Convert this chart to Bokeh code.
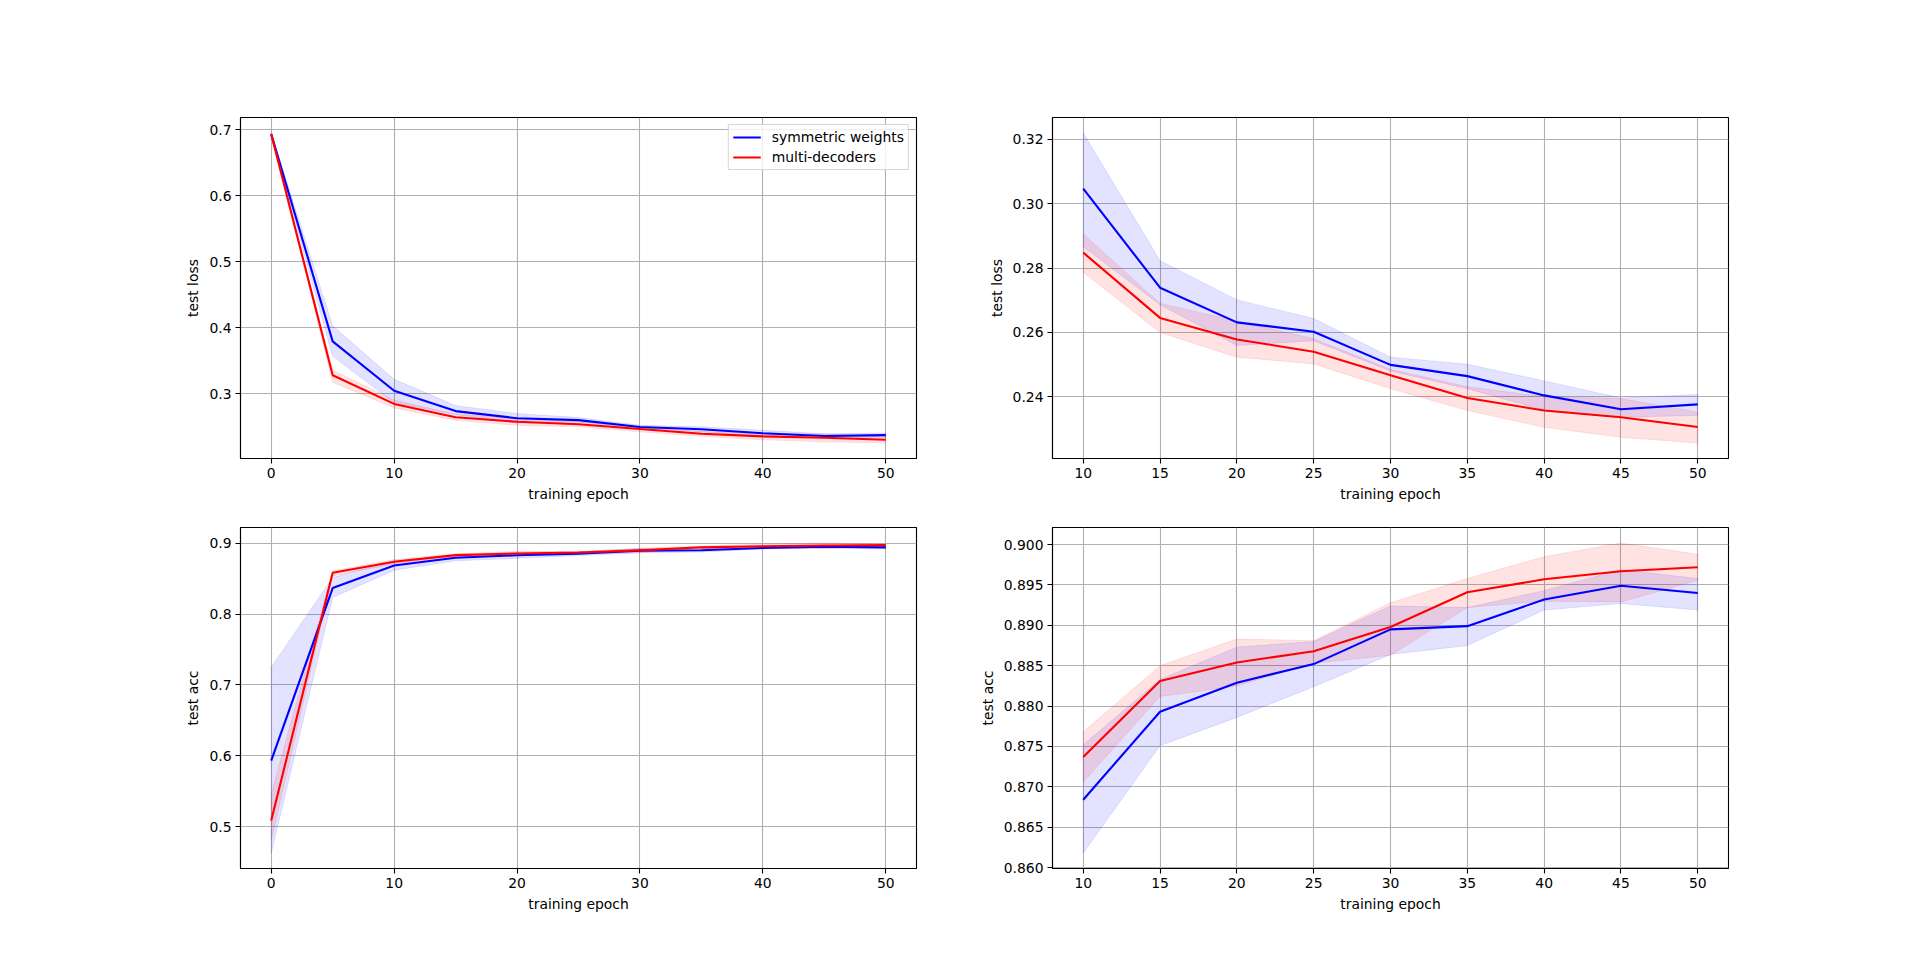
from bokeh.plotting import figure
from bokeh.layouts import column, row
from bokeh.models import Range1d, FixedTicker, PrintfTickFormatter, Legend, LegendItem
from bokeh.embed import file_html
from bokeh.resources import INLINE

# ---------------- data ----------------
epochs = [0, 5, 10, 15, 20, 25, 30, 35, 40, 45, 50]

sym_loss = [0.6935, 0.3795, 0.3047, 0.2739, 0.2631, 0.2602, 0.2499, 0.2464, 0.2404, 0.2361, 0.2376]
sym_loss_hi = [0.6952, 0.4031, 0.3220, 0.2823, 0.2701, 0.2643, 0.2523, 0.2501, 0.2449, 0.2396, 0.2407]
sym_loss_lo = [0.6915, 0.3569, 0.2867, 0.2686, 0.2559, 0.2574, 0.2480, 0.2425, 0.2358, 0.2336, 0.2342]
multi_loss = [0.6935, 0.3282, 0.2848, 0.2645, 0.2578, 0.2540, 0.2467, 0.2396, 0.2357, 0.2336, 0.2306]
multi_loss_hi = [0.6945, 0.3357, 0.2906, 0.2690, 0.2635, 0.2580, 0.2485, 0.2431, 0.2400, 0.2394, 0.2352]
multi_loss_lo = [0.6920, 0.3176, 0.2787, 0.2600, 0.2523, 0.2502, 0.2425, 0.2357, 0.2305, 0.2274, 0.2256]

sym_acc = [0.5934, 0.8366, 0.8684, 0.8793, 0.8829, 0.8852, 0.8895, 0.8899, 0.8932, 0.8949, 0.8940]
sym_acc_hi = [0.7249, 0.8516, 0.8752, 0.8833, 0.8873, 0.8880, 0.8924, 0.8922, 0.8943, 0.8969, 0.8958]
sym_acc_lo = [0.4631, 0.8235, 0.8618, 0.8751, 0.8786, 0.8824, 0.8864, 0.8875, 0.8919, 0.8927, 0.8919]
multi_acc = [0.5089, 0.8582, 0.8737, 0.8831, 0.8854, 0.8868, 0.8898, 0.8941, 0.8957, 0.8967, 0.8972]
multi_acc_hi = [0.5465, 0.8610, 0.8768, 0.8850, 0.8883, 0.8881, 0.8928, 0.8958, 0.8985, 0.9002, 0.8988]
multi_acc_lo = [0.4808, 0.8540, 0.8706, 0.8812, 0.8825, 0.8853, 0.8863, 0.8922, 0.8930, 0.8929, 0.8956]

x_ticks_full = [0, 10, 20, 30, 40, 50]
x_ticks_zoom = [10, 15, 20, 25, 30, 35, 40, 45, 50]
y_ticks_loss_full = [0.3, 0.4, 0.5, 0.6, 0.7]
y_ticks_loss_zoom = [0.24, 0.26, 0.28, 0.30, 0.32]
y_ticks_acc_full = [0.5, 0.6, 0.7, 0.8, 0.9]
y_ticks_acc_zoom = [0.860, 0.865, 0.870, 0.875, 0.880, 0.885, 0.890, 0.895, 0.900]

labels = ["symmetric weights", "multi-decoders"]
x_label = "training epoch"

FONT = "DejaVu Sans"
FS = "13.9px"
BLUE = "#0000ff"
RED = "#ff0000"


def padded(lo, hi):
    span = hi - lo
    return Range1d(lo - 0.05 * span, hi + 0.05 * span)


def make_fig(start, a, a_hi, a_lo, b, b_hi, b_lo, xticks, yticks, yfmt, ylabel,
             borders, legend=False):
    xs = epochs[start:]
    a, a_hi, a_lo = a[start:], a_hi[start:], a_lo[start:]
    b, b_hi, b_lo = b[start:], b_hi[start:], b_lo[start:]
    ymin = min(a_lo + b_lo + a + b)
    ymax = max(a_hi + b_hi + a + b)
    left, right, top, bottom = borders
    p = figure(frame_width=676, frame_height=341,
               min_border_left=left, min_border_right=right,
               min_border_top=top, min_border_bottom=bottom,
               x_range=padded(min(xs), max(xs)), y_range=padded(ymin, ymax),
               output_backend="svg", toolbar_location=None)
    p.background_fill_color = "white"
    p.border_fill_color = "white"
    p.outline_line_color = "black"
    p.outline_line_width = 1.1

    # bands
    for hi, lo, c in ((a_hi, a_lo, BLUE), (b_hi, b_lo, RED)):
        p.patch(xs + xs[::-1], hi + lo[::-1], fill_color=c, fill_alpha=0.11,
                line_color=c, line_alpha=0.1, line_width=1)
    ra = p.line(xs, a, line_color=BLUE, line_width=2.1)
    rb = p.line(xs, b, line_color=RED, line_width=2.1)

    p.xaxis.ticker = FixedTicker(ticks=xticks)
    p.yaxis.ticker = FixedTicker(ticks=yticks)
    p.yaxis.formatter = PrintfTickFormatter(format=yfmt)
    p.xaxis.formatter = PrintfTickFormatter(format="%d")
    p.xaxis.axis_label = x_label
    p.yaxis.axis_label = ylabel
    for ax in p.axis:
        ax.axis_line_color = "black"
        ax.axis_line_width = 1.1
        ax.major_tick_line_color = "black"
        ax.major_tick_line_width = 1.1
        ax.major_tick_in = 0
        ax.major_tick_out = 5
        ax.minor_tick_line_color = None
        ax.major_label_standoff = 4
        ax.major_label_text_font = FONT
        ax.major_label_text_font_size = FS
        ax.major_label_text_color = "black"
        ax.axis_label_text_font = FONT
        ax.axis_label_text_font_size = FS
        ax.axis_label_text_font_style = "normal"
        ax.axis_label_text_color = "black"
        ax.axis_label_standoff = 5
    p.grid.grid_line_color = "#b0b0b0"
    p.grid.grid_line_width = 1.1

    if legend:
        lg = Legend(items=[LegendItem(label=labels[0], renderers=[ra]),
                           LegendItem(label=labels[1], renderers=[rb])],
                    location="top_right")
        lg.label_text_font = FONT
        lg.label_text_font_size = FS
        lg.label_text_color = "black"
        lg.glyph_width = 28
        lg.glyph_height = 14
        lg.label_height = 14
        lg.label_standoff = 11
        lg.spacing = 4
        lg.padding = 4
        lg.margin = 7
        lg.border_line_color = "#cccccc"
        lg.border_line_alpha = 0.8
        lg.background_fill_alpha = 0.8
        p.add_layout(lg)
    return p


p1 = make_fig(0, sym_loss, sym_loss_hi, sym_loss_lo, multi_loss, multi_loss_hi, multi_loss_lo,
              x_ticks_full, y_ticks_loss_full, "%.1f", "test loss", (240, 20, 117, 60), legend=True)
p2 = make_fig(2, sym_loss, sym_loss_hi, sym_loss_lo, multi_loss, multi_loss_hi, multi_loss_lo,
              x_ticks_zoom, y_ticks_loss_zoom, "%.2f", "test loss", (116, 20, 117, 60))
p3 = make_fig(0, sym_acc, sym_acc_hi, sym_acc_lo, multi_acc, multi_acc_hi, multi_acc_lo,
              x_ticks_full, y_ticks_acc_full, "%.1f", "test acc", (240, 20, 9, 60))
p4 = make_fig(2, sym_acc, sym_acc_hi, sym_acc_lo, multi_acc, multi_acc_hi, multi_acc_lo,
              x_ticks_zoom, y_ticks_acc_zoom, "%.3f", "test acc", (116, 20, 9, 60))

layout = column(row(p1, p2, spacing=0), row(p3, p4, spacing=0), spacing=0)

open("out.html", "w").write(file_html(layout, INLINE))
